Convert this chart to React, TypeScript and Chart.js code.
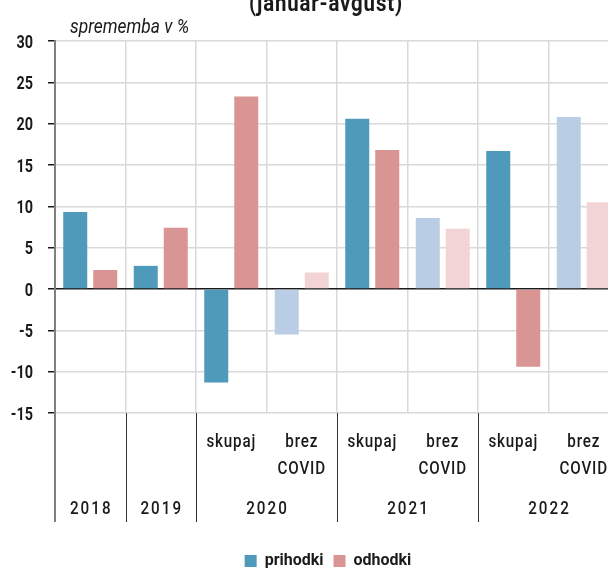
import React, { useEffect, useRef } from "react";
import { Chart, registerables } from "chart.js";

Chart.register(...registerables);

const categories = ["2018", "2019", "2020 skupaj", "2020 brez COVID", "2021 skupaj", "2021 brez COVID", "2022 skupaj", "2022 brez COVID"];
const yearLabels = ["2018", "2019", "2020", "2020", "2021", "2021", "2022", "2022"];
const subLabels: string[][] = [[], [], ["skupaj"], ["brez", "COVID"], ["skupaj"], ["brez", "COVID"], ["skupaj"], ["brez", "COVID"]];
const withoutCovid = [false, false, false, true, false, true, false, true];
const prihodki = [9.3, 2.8, -11.3, -5.5, 20.6, 8.6, 16.7, 20.8];
const odhodki = [2.3, 7.4, 23.3, 2.0, 16.8, 7.3, -9.4, 10.5];
const seriesNames = ["prihodki", "odhodki"];
const yMin = -15;
const yMax = 30;
const yStep = 5;
const titleText = "(januar-avgust)";
const unitText = "sprememba v %";

const FONT = "Roboto, 'DejaVu Sans', sans-serif";
const BLUE = "#4f99ba";
const BLUE_LIGHT = "#b9cde5";
const PINK = "#d99594";
const PINK_LIGHT = "#f2d4d4";
const TEXT = "#1a1a1a";

const W = 619;
const H = 579;

function drawCondensed(ctx: any, text: string, x: number, y: number, font: string, sx: number, align: string, spacing = 0) {
  ctx.save();
  ctx.font = font;
  ctx.letterSpacing = `${spacing}px`;
  ctx.textAlign = align;
  ctx.translate(x, y);
  ctx.scale(sx, 1);
  ctx.fillText(text, 0, 0);
  ctx.restore();
}

const labelsPlugin = {
  id: "xlabels",
  afterDraw(chart: any) {
    const ctx = chart.ctx;
    const xs = chart.scales.x;
    const ys = chart.scales.y;
    const area = chart.chartArea;
    const bottom = area.bottom;
    const lineEnd = bottom + 109;
    ctx.save();
    // y axis extension below the plot
    ctx.strokeStyle = "#7f7f7f";
    ctx.lineWidth = 2;
    ctx.beginPath();
    ctx.moveTo(area.left, bottom);
    ctx.lineTo(area.left, lineEnd);
    ctx.stroke();
    // group separators
    ctx.strokeStyle = "#333";
    ctx.lineWidth = 1;
    for (let i = 1; i < yearLabels.length; i++) {
      if (yearLabels[i] !== yearLabels[i - 1]) {
        const px = Math.round((xs.getPixelForValue(i - 1) + xs.getPixelForValue(i)) / 2) + 0.5;
        ctx.beginPath();
        ctx.moveTo(px, bottom);
        ctx.lineTo(px, lineEnd);
        ctx.stroke();
      }
    }
    ctx.fillStyle = TEXT;
    ctx.textBaseline = "middle";
    // y tick labels
    ys.ticks.forEach((t: any) => {
      const py = ys.getPixelForValue(t.value);
      drawCondensed(ctx, String(t.value), area.left - 22, py + 2, `bold 18px ${FONT}`, 0.8, "right");
    });
    // sub labels
    subLabels.forEach((lines, i) => {
      const px = xs.getPixelForValue(i);
      lines.forEach((t, j) => {
        drawCondensed(ctx, t, px, bottom + 29 + j * 27, `500 19px ${FONT}`, 0.8, "center", 1);
      });
    });
    // year labels
    let start = 0;
    for (let i = 1; i <= yearLabels.length; i++) {
      if (i === yearLabels.length || yearLabels[i] !== yearLabels[start]) {
        const px = (xs.getPixelForValue(start) + xs.getPixelForValue(i - 1)) / 2;
        drawCondensed(ctx, yearLabels[start], px + 1, bottom + 96, `500 19px ${FONT}`, 0.8, "center", 2.5);
        start = i;
      }
    }
    // title (cut off at top)
    ctx.textBaseline = "alphabetic";
    drawCondensed(ctx, titleText, 326, 11, `bold 24px ${FONT}`, 0.85, "center", 1);
    // unit
    drawCondensed(ctx, unitText, 70, 33, `italic 20px ${FONT}`, 0.87, "left");
    ctx.restore();
  },
};

export default function App() {
  const ref = useRef<HTMLCanvasElement>(null);
  useEffect(() => {
    if (!ref.current) return;
    const colorFor = (dark: string, light: string) => (c: any) =>
      c.dataIndex !== undefined && withoutCovid[c.dataIndex] ? light : dark;
    const chart = new Chart(ref.current, {
      type: "bar",
      data: {
        labels: categories,
        datasets: [
          {
            label: seriesNames[0],
            data: prihodki,
            backgroundColor: colorFor(BLUE, BLUE_LIGHT),
            categoryPercentage: 0.851,
            barPercentage: 0.8,
          },
          {
            label: seriesNames[1],
            data: odhodki,
            backgroundColor: colorFor(PINK, PINK_LIGHT),
            categoryPercentage: 0.851,
            barPercentage: 0.8,
          },
        ],
      },
      options: {
        responsive: false,
        animation: false,
        layout: { padding: { top: 41, left: 37, right: 0, bottom: 0 } },
        scales: {
          x: {
            grid: {
              offset: true,
              color: "#d9d9d9",
              lineWidth: 1.5,
              drawTicks: false,
            },
            border: { display: false },
            ticks: { display: false },
            afterFit: (s: any) => {
              s.height = 130;
            },
          },
          y: {
            min: yMin,
            max: yMax,
            afterFit: (s: any) => {
              s.width = 18;
            },
            grid: {
              color: (c: any) => (c.tick && c.tick.value === 0 ? "#1a1a1a" : "#d9d9d9"),
              lineWidth: 1.5,
              tickColor: "#1a1a1a",
              tickLength: 7,
              tickWidth: 1.5,
            },
            border: { color: "#7f7f7f", width: 2 },
            ticks: {
              stepSize: yStep,
              display: false,
            },
          },
        },
        plugins: {
          legend: {
            position: "bottom",
            labels: {
              boxWidth: 12,
              boxHeight: 12,
              padding: 10,
              color: TEXT,
              font: { family: FONT, size: 16, weight: "bold" },
            },
          },
          title: { display: false },
          tooltip: { enabled: false },
        },
      },
      plugins: [labelsPlugin],
    });
    return () => chart.destroy();
  }, []);
  return (
    <div style={{ position: "fixed", left: 0, top: 0, width: 608, height: 570, overflow: "hidden", background: "#fff" }}>
      <canvas ref={ref} width={W} height={H} style={{ width: W, height: H, display: "block" }} />
    </div>
  );
}
